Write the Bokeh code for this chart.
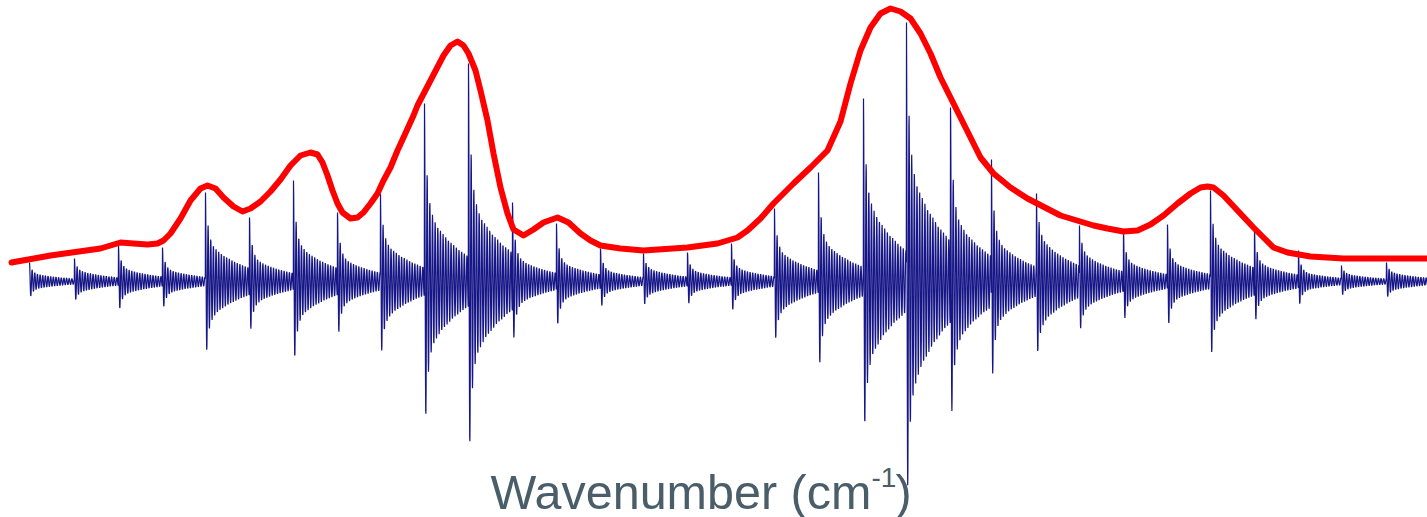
import numpy as np
from bokeh.plotting import figure
from bokeh.models import Label
from bokeh.embed import file_html
from bokeh.resources import INLINE

# ---- data ----
# positions of the ringing bursts (wavenumber axis, arbitrary units)
burst_pos = [29, 74, 118, 162, 205, 249, 293, 337, 380, 424, 468, 512, 556,
             600, 643, 687, 731, 774, 818, 863, 906, 950, 991, 1036, 1079,
             1123, 1167, 1210, 1254, 1298, 1341, 1386]
# visible peak height of each burst
burst_amp = [19, 23, 36, 34, 89, 64, 101, 69, 88, 178, 218, 79, 58,
             33, 28, 29, 38, 73, 109, 183, 259, 174, 122, 88, 56,
             48, 57, 91, 51, 31, 16, 19]

# red spectral envelope
env_x = [11, 50, 100, 110, 120, 133, 147, 157, 163, 170, 180, 190, 200, 207,
         215, 223, 233, 242, 250, 260, 270, 280, 290, 300, 310, 317, 322, 327,
         332, 337, 342, 350, 357, 363, 370, 377, 383, 390, 397, 403, 413, 417,
         430, 443, 450, 457, 463, 468, 475, 480, 487, 493, 500, 507, 513, 523,
         533, 543, 557, 568, 580, 590, 600, 620, 643, 687, 717, 737, 747, 760,
         773, 793, 810, 827, 840, 850, 860, 870, 880, 890, 900, 910, 920, 930,
         940, 950, 960, 970, 980, 993, 1010, 1027, 1060, 1093, 1107, 1123,
         1137, 1150, 1163, 1177, 1190, 1200, 1207, 1213, 1223, 1237, 1253,
         1263, 1273, 1287, 1310, 1343, 1427]
env_y = [19, 26, 33, 36, 39, 38, 37, 38, 41, 48, 63, 81, 93, 96,
         93, 84, 75, 70, 73, 80, 90, 102, 116, 126, 129, 127, 119, 106,
         91, 78, 69, 63, 64, 69, 78, 88, 101, 114, 131, 144, 166, 176,
         201, 226, 236, 240, 236, 228, 211, 191, 161, 128, 94, 68, 52, 46,
         52, 59, 64, 59, 48, 41, 36, 33, 31, 34, 38, 44, 51, 63,
         78, 98, 114, 131, 160, 198, 231, 254, 268, 273, 270, 263, 248, 228,
         204, 184, 164, 144, 124, 108, 94, 83, 66, 56, 53, 50,
         51, 57, 66, 78, 88, 94, 95, 94, 86, 71, 54,
         44, 34, 29, 25, 23, 23]

# ringing parameters
period = 2.65
fast_w, fast_tau = 0.55, 2.6
slow_w, slow_tau = 0.45, 40.0

# ---- build ringing trace ----
step = 0.2
n = int(round((1427.0 - burst_pos[0]) / step)) + 1
x = burst_pos[0] + step * np.arange(n)
y = np.zeros_like(x)


def ring(t):
    env = fast_w * np.exp(-t / fast_tau) + slow_w * np.exp(-t / slow_tau)
    return env * np.cos(2 * np.pi * t / period)


for c, a in zip(burst_pos, burst_amp):
    i0 = int(round((c - x[0]) / step))
    # make the visible peak equal the read height (tails of earlier bursts overlap)
    a_eff = a - y[i0]
    tt = x[i0:] - x[i0]
    y[i0:] += a_eff * ring(tt)

p = figure(width=1427, height=517, x_range=(0, 1427), y_range=(-236, 281),
           output_backend="svg", toolbar_location=None, min_border=0,
           background_fill_color="white", border_fill_color="white")
p.axis.visible = False
p.grid.visible = False
p.outline_line_color = None

p.line(x, y, line_color="#161687", line_width=1.2, line_alpha=1.0)
p.line(env_x, env_y, line_color="#ff0000", line_width=6, line_join="round",
       line_cap="round")

txt_color = "#4a5e6a"
p.add_layout(Label(x=490, y=26, x_units="screen", y_units="screen",
                   text="Wavenumber (cm", text_font="Liberation Sans",
                   text_font_size="48.5px", text_color=txt_color,
                   text_baseline="alphabetic"))
p.add_layout(Label(x=871, y=40, x_units="screen", y_units="screen",
                   text="-1", text_font="Liberation Sans",
                   text_font_size="28px", text_color=txt_color,
                   text_baseline="alphabetic"))
p.add_layout(Label(x=895, y=26, x_units="screen", y_units="screen",
                   text=")", text_font="Liberation Sans",
                   text_font_size="48.5px", text_color=txt_color,
                   text_baseline="alphabetic"))

open("out.html", "w").write(file_html(p, INLINE))
